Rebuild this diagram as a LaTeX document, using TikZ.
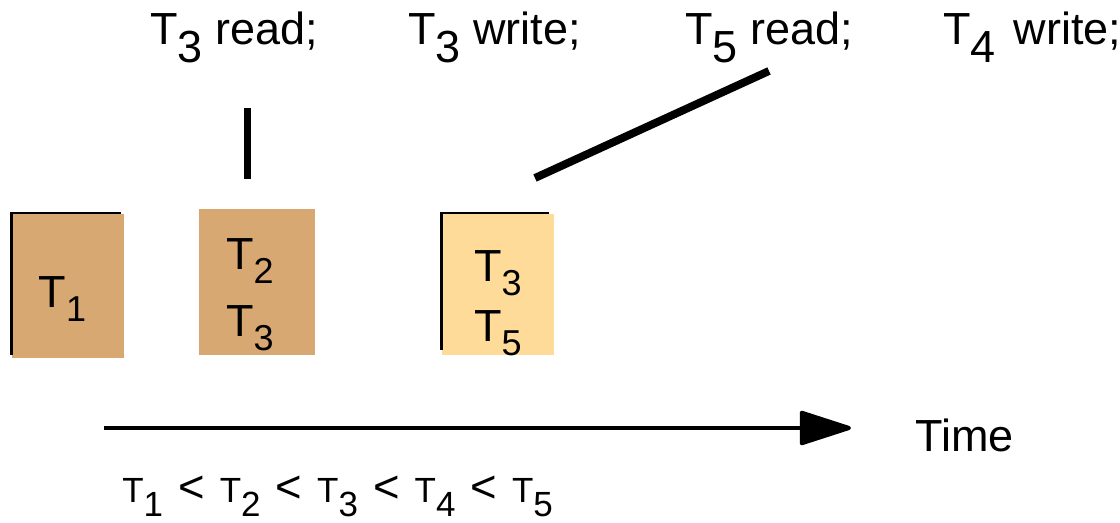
\documentclass[tikz,border=0pt]{standalone}
\usepackage{fontspec}
\setmainfont{Liberation Sans}
\usepackage{tikz}
\usetikzlibrary{arrows.meta,positioning}
\definecolor{tanbox}{RGB}{216,168,115}
\definecolor{lightbox}{RGB}{255,219,153}
\newcommand{\tsub}[1]{\raisebox{-0.4em}{#1}}
\newcommand{\tsubs}[1]{\raisebox{-0.3em}{\scalebox{0.8}{#1}}}
\newcommand{\tlt}{\hspace{0.43em}\scalebox{1.3}{<}\hspace{0.43em}}
\tikzset{
  txn/.style={fill=tanbox,inner sep=0pt,outer sep=0pt,anchor=south west},
  txnlight/.style={fill=lightbox,inner sep=0pt,outer sep=0pt,anchor=south west},
  rim/.style={black,line width=1.2pt},
  op/.style={anchor=base west,inner sep=0pt,font=\fontsize{25.6}{30}\selectfont},
  lab/.style={anchor=base,inner sep=0pt,font=\fontsize{25.6}{30}\selectfont},
  tick/.style={line width=4.5pt}
}

\begin{document}
\begin{tikzpicture}
\useasboundingbox (0,0) rectangle (22.4,10.46);
% transactions
\node[txn,minimum width=2.24cm,minimum height=2.88cm] (b1) at (0.24,3.30) {};
\draw[rim] ([shift={(-0.01,0.06)}]b1.south west) -- ([shift={(-0.01,0.02)}]b1.north west) -- ([shift={(-0.06,0.02)}]b1.north east);
\node[txn,minimum width=2.32cm,minimum height=2.92cm] (b2) at (3.98,3.36) {};
\node[txnlight,minimum width=2.24cm,minimum height=2.82cm] (b3) at (8.84,3.36) {};
\draw[rim] ([shift={(-0.01,0.10)}]b3.south west) -- ([shift={(-0.01,0.02)}]b3.north west) -- ([shift={(-0.10,0.02)}]b3.north east);
\node[lab] (t1) at (1.25,4.30) {T\tsubs{1}};
\node[lab] (t2) at (5.0,5.06) {T\tsubs{2}};
\node[lab] (t3) at (5.0,3.72) {T\tsubs{3}};
\node[lab] (t3b) at (9.96,4.82) {T\tsubs{3}};
\node[lab] (t5) at (9.96,3.62) {T\tsubs{5}};
% operations
\node[op] (rd3) at (3.0,9.56) {T\tsub{3} read;};
\node[op] (wr3) at (8.16,9.56) {T\tsub{3} write;};
\node[op] (rd5) at (13.7,9.56) {T\tsub{5} read;};
\node[op] (wr4) at (18.86,9.56) {T\tsub{4}\hspace{0.12em} write;};
\coordinate (m1a) at (4.95,8.30); \coordinate (m1b) at (4.95,6.88);
\coordinate (m2a) at (15.38,9.04); \coordinate (m2b) at (10.70,6.90);
\draw[tick] (m1b) -- (m1a);
\draw[tick] (m2b) -- (m2a);
% time axis
\coordinate (ax0) at (2.08,1.90); \coordinate (ax1) at (17.02,1.90);
\draw[line width=2.3pt,-{Triangle[length=1.12cm,width=0.70cm,round]}] (ax0) -- (ax1);
\node[op] (time) at (18.3,1.42) {Time};
\node[op,font=\fontsize{19.9}{24}\selectfont] (order) at (2.44,0.40) {T\tsub{1}\tlt T\tsub{2}\tlt T\tsub{3}\tlt T\tsub{4}\tlt T\tsub{5}};
\end{tikzpicture}
\end{document}
